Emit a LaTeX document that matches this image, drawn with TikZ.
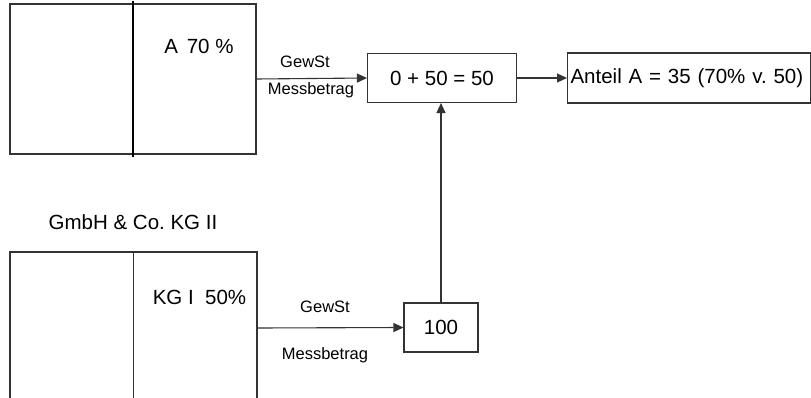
\documentclass[tikz,border=0pt]{standalone}
\usepackage{fontspec}
\setmainfont{Liberation Sans}
\usetikzlibrary{arrows.meta}
\definecolor{kline}{HTML}{333333}

\begin{document}
\begin{tikzpicture}[x=1pt, y=-1pt, >={Triangle[length=10pt,width=9pt]},
    line width=1.1pt, draw=kline,
    bigtext/.style={font=\fontsize{20.5}{24}\selectfont\frenchspacing, text=black},
    smalltext/.style={font=\fontsize{16.5}{19}\selectfont, text=black},
    box/.style={draw=kline, line width=1.1pt, inner sep=0pt}]
  \useasboundingbox (0,0) rectangle (811,398);
  \clip (0,0) rectangle (811,398);

  % partner box of KG II (top)
  \node[box, minimum width=246pt, minimum height=150pt] (kgA) at (133,79) {};
  \draw[black, line width=2.4pt] ([yshift=2pt]kgA.north) -- ([yshift=-2pt]kgA.south);
  \node[bigtext] (shA) at (199,46) {A\hspace{0.42em}70 \%};

  \node[bigtext] (gmbh) at (133,222) {GmbH \& Co. KG II};

  % partner box of KG I (cut off at the bottom)
  \node[box, minimum width=247pt, minimum height=152pt] (kgI) at (133.5,328) {};
  \draw (kgI.north) -- (kgI.south);
  \node[bigtext] (shI) at (199.5,297) {KG I\ \ 50\%};

  % amounts
  \node[box, bigtext, minimum width=149pt, minimum height=49pt] (sum) at (442,78) {0 + 50 = 50};
  \node[box, bigtext, minimum width=74pt, minimum height=49pt] (base) at (441,327.5) {100};
  \node[box, bigtext, text width=237pt, inner xsep=3pt, minimum height=50pt,
        align=left, anchor=west] (share) at (567,78) {Anteil A = 35 (70\% v. 50)};

  % flows
  \draw[->] (kgA.east) -- (sum.west);
  \draw[->] (kgI.east) -- (base.west);
  \draw[->] (base.north) -- (base.north |- sum.south);
  \draw[->] (sum.east) -- (share.west);

  % arrow labels
  \node[smalltext] (gA) at (305,62) {GewSt};
  \node[smalltext] (mA) at (311,90) {Messbetrag};
  \node[smalltext] (gI) at (325,307) {GewSt};
  \node[smalltext] (mI) at (325,355) {Messbetrag};
\end{tikzpicture}
\end{document}
